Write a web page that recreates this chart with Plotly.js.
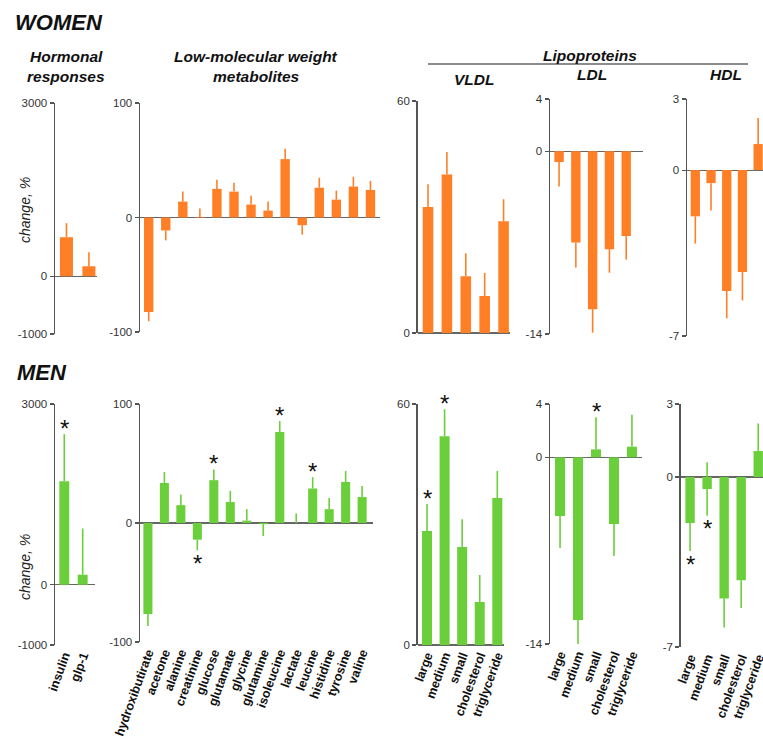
<!DOCTYPE html>
<html>
<head>
<meta charset="utf-8">
<script src="https://cdn.plot.ly/plotly-3.0.1.min.js"></script>
<style>html,body{margin:0;padding:0;overflow:hidden;background:#fff}</style>
</head>
<body>
<div id="chart" style="width:763px;height:740px"></div>
<script>
// ---------- DATA ----------
const hormoneCats = ["insulin", "glp-1"];
const metaboliteCats = ["hydroxibutirate","acetone","alanine","creatinine","glucose","glutamate","glycine","glutamine","isoleucine","lactate","leucine","histidine","tyrosine","valine"];
const lipoCats = ["large","medium","small","cholesterol","triglyceride"];

// WOMEN
const womenHormone = [676, 173];
const womenHormoneErr = [243, 243];
const womenMetab = [-82.6, -11.3, 13.9, 0.5, 25, 22.6, 11.3, 6, 51, -6.7, 26, 15.6, 27, 24];
const womenMetabErr = [8, 8.7, 8.7, 7.3, 8, 7.8, 7.7, 8, 9, 8.3, 8.7, 7.9, 8.6, 8];
const womenVLDL = [32.6, 41, 14.7, 9.6, 28.9];
const womenVLDLErr = [5.9, 5.8, 5.9, 5.9, 5.7];
const womenLDL = [-0.83, -7.0, -12.1, -7.5, -6.5];
const womenLDLErr = [1.87, 1.9, 1.8, 1.8, 1.8];
const womenHDL = [-1.95, -0.55, -5.1, -4.3, 1.1];
const womenHDLErr = [1.15, 1.15, 1.15, 1.2, 1.1];

// MEN
const menHormone = [1717, 167];
const menHormoneErr = [783, 766];
const menHormoneSig = [true, false];
const menMetab = [-76.5, 33.6, 15, -14, 36, 17.6, 2, -1, 76.5, 0, 29, 11.6, 34.5, 21.8];
const menMetabErr = [10, 9.3, 9, 9, 9, 9.4, 9.7, 10, 9.2, 8, 9.6, 9.4, 9.2, 9.2];
const menMetabSig = [false,false,false,true,true,false,false,false,true,false,true,false,false,false];
const menVLDL = [28.4, 52, 24.4, 10.7, 36.6];
const menVLDLErr = [6.7, 6.7, 6.9, 6.7, 6.7];
const menVLDLSig = [true, true, false, false, false];
const menLDL = [-4.4, -12.2, 0.6, -5.0, 0.8];
const menLDLErr = [2.4, 1.8, 2.4, 2.4, 2.4];
const menLDLSig = [false, false, true, false, false];
const menHDL = [-1.9, -0.5, -5.0, -4.25, 1.07];
const menHDLErr = [1.15, 1.1, 1.2, 1.15, 1.13];
const menHDLErrBothSides = [false, true, false, false, false];
const menHDLSig = [true, true, false, false, false];

const ORANGE = "#FF7F27";
const GREEN = "#6BCF3B";
const W = 763, H = 740;
const FONT = "Liberation Sans, Arial, sans-serif";

// ---------- PANELS (layout in pixels) ----------
const panels = [
  // women
  {cats: hormoneCats, v: womenHormone, e: womenHormoneErr, color: ORANGE, x0: 55, x1: 97, yt: 103, yb: 334, yr: [-1000, 3000], xr: [-0.51, 1.36], bw: 0.58, labels: false},
  {cats: metaboliteCats, v: womenMetab, e: womenMetabErr, color: ORANGE, x0: 140, x1: 380, yt: 103, yb: 332, yr: [-100, 100], xr: [-0.51, 13.56], bw: 0.55, labels: false},
  {cats: lipoCats, v: womenVLDL, e: womenVLDLErr, color: ORANGE, x0: 417.7, x1: 510, yt: 101, yb: 333, yr: [0, 60], xr: [-0.545, 4.34], bw: 0.56, labels: false},
  {cats: lipoCats, v: womenLDL, e: womenLDLErr, color: ORANGE, x0: 550, x1: 643, yt: 99, yb: 334, yr: [-14, 4], xr: [-0.54, 5.0], bw: 0.56, labels: false},
  {cats: lipoCats, v: womenHDL, e: womenHDLErr, color: ORANGE, x0: 687, x1: 763, yt: 99, yb: 336, yr: [-7, 3], xr: [-0.53, 4.31], bw: 0.59, labels: false},
  // men
  {cats: hormoneCats, v: menHormone, e: menHormoneErr, sig: menHormoneSig, color: GREEN, x0: 55, x1: 95, yt: 404, yb: 645, yr: [-1000, 3000], xr: [-0.505, 1.67], bw: 0.54, labels: true},
  {cats: metaboliteCats, v: menMetab, e: menMetabErr, sig: menMetabSig, color: GREEN, x0: 140, x1: 373, yt: 404, yb: 642, yr: [-100, 100], xr: [-0.48, 13.66], bw: 0.55, labels: true},
  {cats: lipoCats, v: menVLDL, e: menVLDLErr, sig: menVLDLSig, color: GREEN, x0: 417.7, x1: 504, yt: 404, yb: 645, yr: [0, 60], xr: [-0.53, 4.38], bw: 0.57, labels: true},
  {cats: lipoCats, v: menLDL, e: menLDLErr, sig: menLDLSig, color: GREEN, x0: 550, x1: 642, yt: 404, yb: 644, yr: [-14, 4], xr: [-0.56, 4.56], bw: 0.56, labels: true},
  {cats: lipoCats, v: menHDL, e: menHDLErr, sig: menHDLSig, both: menHDLErrBothSides, color: GREEN, x0: 680.7, x1: 763, yt: 404, yb: 647, yr: [-7, 3], xr: [-0.55, 4.28], bw: 0.55, labels: true}
];

const traces = [];
const layout = {
  width: W, height: H,
  margin: {l: 0, r: 0, t: 0, b: 0},
  paper_bgcolor: "#fff", plot_bgcolor: "rgba(0,0,0,0)",
  showlegend: false,
  font: {family: FONT, color: "#333"},
  annotations: [],
  shapes: []
};

panels.forEach((p, i) => {
  const n = i + 1;
  const xa = n === 1 ? "x" : "x" + n;
  const ya = n === 1 ? "y" : "y" + n;
  const plus = p.v.map((v, k) => (v >= 0 || (p.both && p.both[k])) ? p.e[k] : 0);
  const minus = p.v.map((v, k) => (v < 0 || (p.both && p.both[k])) ? p.e[k] : 0);
  traces.push({
    type: "bar", x: p.cats, y: p.v, xaxis: xa, yaxis: ya,
    marker: {color: p.color, line: {width: 0}},
    width: p.bw,
    error_y: {type: "data", symmetric: false, array: plus, arrayminus: minus,
              color: p.color, thickness: 1.6, width: 0, visible: true},
    hoverinfo: "x+y"
  });
  const xKey = n === 1 ? "xaxis" : "xaxis" + n;
  const yKey = n === 1 ? "yaxis" : "yaxis" + n;
  const tv = [p.yr[0], 0, p.yr[1]].filter((v, k, a) => a.indexOf(v) === k);
  layout[xKey] = {
    domain: [p.x0 / W, p.x1 / W], anchor: ya, type: "category",
    range: p.xr, showgrid: false, zeroline: false, showline: false, ticks: "",
    showticklabels: p.labels, tickangle: -70,
    tickfont: {family: FONT, size: 12.5, color: "#111", weight: "bold"},
    fixedrange: true
  };
  layout[yKey] = {
    domain: [1 - p.yb / H, 1 - p.yt / H], anchor: xa, range: p.yr,
    showgrid: false, zeroline: true, zerolinecolor: "#666", zerolinewidth: 1.2,
    showline: true, linecolor: "#555", linewidth: 1.5,
    ticks: "outside", ticklen: 4, tickwidth: 1.2, tickcolor: "#555",
    tickvals: tv, ticktext: tv.map(String),
    tickfont: {family: FONT, size: 11.5, color: "#333"},
    fixedrange: true
  };
  if (p.sig) {
    p.sig.forEach((s, k) => {
      if (!s) return;
      const neg = p.v[k] < 0;
      const tip = neg ? p.v[k] - p.e[k] : p.v[k] + p.e[k];
      layout.annotations.push({
        xref: xa, yref: ya, x: p.cats[k], y: tip, text: "*", showarrow: false,
        yanchor: "middle", yshift: neg ? -13 : 6,
        font: {family: FONT, size: 24, color: "#111"}
      });
    });
  }
});

// ---------- TEXT ----------
function addText(text, x, y, size, opts) {
  layout.annotations.push(Object.assign({
    xref: "paper", yref: "paper", x: x / W, y: 1 - y / H, text: text, showarrow: false,
    xanchor: "center", yanchor: "middle",
    font: {family: FONT, size: size, color: "#111", weight: "bold", style: "italic"}
  }, opts || {}));
}
addText("WOMEN", 13, 22, 22, {xanchor: "left"});
addText("MEN", 15, 373, 22, {xanchor: "left"});
addText("Hormonal", 66, 57, 15.5);
addText("responses", 66, 76, 15.5);
addText("Low-molecular weight", 256, 57, 15.5);
addText("metabolites", 256, 76, 15.5);
addText("Lipoproteins", 590, 55, 15.5);
addText("VLDL", 474, 79, 15.5);
addText("LDL", 592, 75, 15.5);
addText("HDL", 726, 75, 15.5);
addText("change, %", 25, 210, 14, {textangle: -90, font: {family: FONT, size: 14, color: "#222", style: "italic"}});
addText("change, %", 25, 567, 14, {textangle: -90, font: {family: FONT, size: 14, color: "#222", style: "italic"}});

layout.shapes.push({type: "line", xref: "paper", yref: "paper",
  x0: 428 / W, x1: 748 / W, y0: 1 - 64 / H, y1: 1 - 64 / H,
  line: {color: "#666", width: 1.3}});

Plotly.newPlot("chart", traces, layout, {displayModeBar: false, staticPlot: true});
</script>
</body>
</html>
